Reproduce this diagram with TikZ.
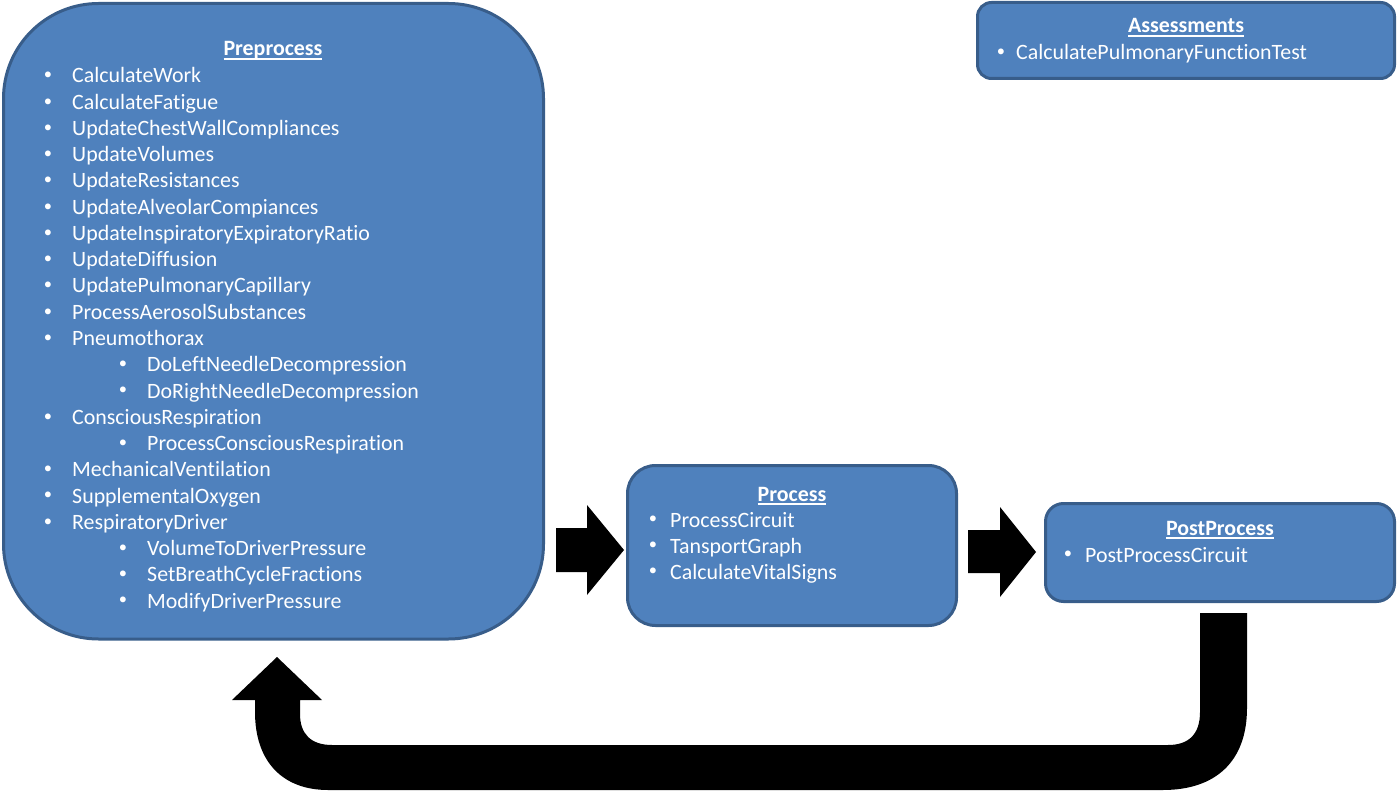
\documentclass[tikz,border=0pt]{standalone}
\usepackage{fontspec}
\setmainfont{Carlito}[Ligatures={NoCommon}]
\definecolor{boxfill}{HTML}{4F81BD}
\definecolor{boxline}{HTML}{385D8A}
\newcommand\myul[1]{\setbox0\hbox{#1}\rlap{\vrule height -2pt depth 3.6pt width \wd0}\box0}
\begin{document}
\begin{tikzpicture}[x=1pt,y=-1pt,
  box/.style={draw=boxline, fill=boxfill, line width=3pt, anchor=north west, inner sep=0pt, outer sep=0pt},
  txt/.style={inner sep=0pt, anchor=base west, text=white, font=\fontsize{21.9}{26}\selectfont},
  ttl/.style={inner sep=0pt, anchor=base, text=white, font=\fontsize{21.9}{26}\selectfont\bfseries},
  bul/.style={inner sep=0pt, anchor=center, text=white, font=\fontsize{16.5}{16}\selectfont},
  blk/.style={fill=black}]
\useasboundingbox (0,0) rectangle (1397,791);

% boxes
\node[box, rounded corners=95pt, minimum width=540pt, minimum height=635.5pt] (pre) at (3.5,3.5) {};
\node[box, rounded corners=28pt, minimum width=329pt, minimum height=160pt] (proc) at (627.5,465.5) {};
\node[box, rounded corners=18pt, minimum width=349pt, minimum height=98pt] (post) at (1045.5,503.5) {};
\node[box, rounded corners=14pt, minimum width=417pt, minimum height=76pt] (assess) at (977.5,2.5) {};

% block arrows
\fill[blk] (556,528) -- (587,528) -- (587,505) -- (624,550) -- (587,595) -- (587,572) -- (556,572) -- cycle;
\fill[blk] (968,530) -- (1000,530) -- (1000,507) -- (1036,552) -- (1000,597) -- (1000,573) -- (968,573) -- cycle;
\fill[blk] (1200,613) -- (1247,613) -- (1247,708) .. controls (1247,762) and (1215,790) .. (1163,790)
  -- (328,790) .. controls (283,790) and (255,762) .. (255,712) -- (255,700) -- (232,700) -- (277,657)
  -- (322,700) -- (300,700) -- (300,714) .. controls (300,734) and (311,745) .. (332,745)
  -- (1168,745) .. controls (1189,745) and (1200,734) .. (1200,712) -- cycle;

% Preprocess text
\node[ttl] (preT) at (273,56) {\myul{Preprocess}};
\foreach \bx/\tx/\t [count=\i from 0] in {
  48/72/CalculateWork, 48/72/CalculateFatigue, 48/72/UpdateChestWallCompliances,
  48/72/UpdateVolumes, 48/72/UpdateResistances, 48/72/UpdateAlveolarCompiances,
  48/72/UpdateInspiratoryExpiratoryRatio, 48/72/UpdateDiffusion, 48/72/UpdatePulmonaryCapillary,
  48/72/ProcessAerosolSubstances, 48/72/Pneumothorax, 123/147/DoLeftNeedleDecompression,
  123/147/DoRightNeedleDecompression, 48/72/ConsciousRespiration, 123/147/ProcessConsciousRespiration,
  48/72/MechanicalVentilation, 48/72/SupplementalOxygen, 48/72/RespiratoryDriver,
  123/147/VolumeToDriverPressure, 123/147/SetBreathCycleFractions, 123/147/ModifyDriverPressure}
{
  \pgfmathsetmacro\yy{83+\i*26.25}
  \node[bul] (preB\i) at (\bx,\yy-7) {•};
  \node[txt] (preL\i) at (\tx,\yy) {\t};
}

% Process text
\node[ttl] (procT) at (792,501) {\myul{Process}};
\foreach \t [count=\i from 0] in {ProcessCircuit, TansportGraph, CalculateVitalSigns}
{
  \pgfmathsetmacro\yy{527+\i*26}
  \node[bul] (procB\i) at (653,\yy-7) {•};
  \node[txt] (procL\i) at (670,\yy) {\t};
}

% PostProcess text
\node[ttl] (postT) at (1220,535) {\myul{PostProcess}};
\node[bul] (postB0) at (1068,555) {•};
\node[txt] (postL0) at (1085,562) {PostProcessCircuit};

% Assessments text
\node[ttl] (assT) at (1186,33) {\myul{Assessments}};
\node[bul] (assB0) at (1001,53) {•};
\node[txt] (assL0) at (1016,60) {CalculatePulmonaryFunctionTest};
\end{tikzpicture}
\end{document}
